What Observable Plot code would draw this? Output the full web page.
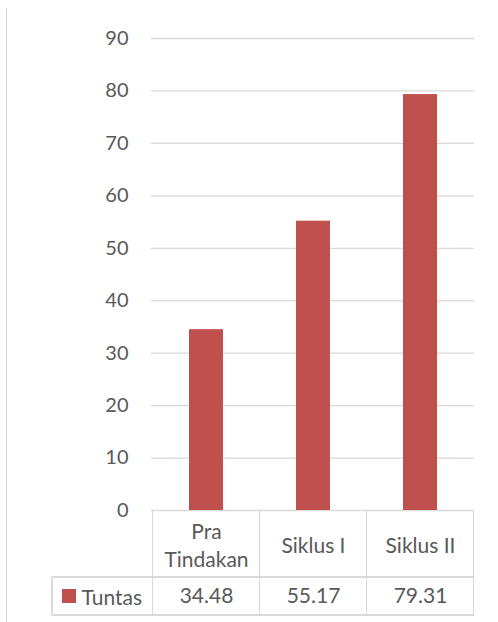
<!DOCTYPE html>
<html><head><meta charset="utf-8">
<script src="https://cdn.jsdelivr.net/npm/d3@7"></script>
<script src="https://cdn.jsdelivr.net/npm/@observablehq/plot@0.6"></script>
<style>
body{margin:0;background:#fff;}
#wrap{position:relative;width:498px;height:622px;font-family:Lato,"Open Sans",sans-serif;color:#595959;overflow:hidden;}
.ln{position:absolute;background:#d9d9d9;}
.cell{position:absolute;display:flex;align-items:center;justify-content:center;font-size:21px;color:#595959;}
</style></head><body><div id="wrap"></div>
<script>
const categories = ["Pra Tindakan", "Siklus I", "Siklus II"];
const values = [34.48, 55.17, 79.31];
const seriesName = "Tuntas";
const yTicks = [0, 10, 20, 30, 40, 50, 60, 70, 80, 90];
const data = categories.map((c, i) => ({category: c, value: values[i]}));

const font = 'Lato, "Open Sans", sans-serif';
const plot = Plot.plot({
  width: 498, height: 622,
  marginLeft: 151, marginRight: 24, marginTop: 38, marginBottom: 112,
  style: {fontFamily: font, fontSize: "20px", color: "#595959", background: "transparent", overflow: "visible"},
  x: {domain: categories, paddingInner: 0.684, paddingOuter: 0.342, axis: null},
  y: {domain: [0, 90]},
  marks: [
    Plot.gridY(yTicks, {stroke: "#d9d9d9", strokeOpacity: 1, strokeWidth: 1.3}),
    Plot.axisY(yTicks, {tickSize: 0, tickPadding: 23, fontSize: 20, fill: "#595959", label: null, tickFormat: d => String(d)}),
    Plot.barY(data, {x: "category", y: "value", fill: "#c0504d"}),
    Plot.text(categories, {x: d => d, frameAnchor: "bottom", dy: 33.5, lineAnchor: "middle", lineHeight: 1.35, lineWidth: 5.5, fontSize: 21, fill: "#595959"}),
    Plot.text(data, {x: "category", frameAnchor: "bottom", dy: 86, text: d => d.value.toFixed(2), lineAnchor: "middle", fontSize: 21, fill: "#595959"})
  ]
});
plot.style.position = "absolute";
plot.style.left = "0px";
plot.style.top = "0px";
const wrap = document.getElementById("wrap");
wrap.appendChild(plot);

// data table borders from the x scale
const xs = plot.scale("x");
const ys = plot.scale("y");
const y0 = ys.apply(0);
const step = xs.step;
const xLeft = xs.apply(categories[0]) - (step - xs.bandwidth) / 2;
const row1Bottom = y0 + 67;
const row2Bottom = y0 + 105;
const legendLeft = 52;
function line(x, y, w, h) {
  const d = document.createElement("div");
  d.className = "ln";
  d.style.left = x + "px"; d.style.top = y + "px";
  d.style.width = w + "px"; d.style.height = h + "px";
  wrap.appendChild(d);
}
// left chart border
line(6, 8, 1.3, 614);
// vertical column separators
for (let i = 0; i <= categories.length; i++) {
  line(xLeft + i * step - 0.65, y0, 1.3, row2Bottom - y0);
}
line(legendLeft - 0.65, row1Bottom, 1.3, row2Bottom - row1Bottom);
line(legendLeft, row1Bottom - 0.65, xLeft + categories.length * step - legendLeft, 1.3);
line(legendLeft, row2Bottom - 0.65, xLeft + categories.length * step - legendLeft, 1.3);

// legend cell
const leg = document.createElement("div");
leg.className = "cell";
leg.style.left = legendLeft + "px";
leg.style.top = row1Bottom + "px";
leg.style.width = (xLeft - legendLeft) + "px";
leg.style.height = (row2Bottom - row1Bottom) + "px";
leg.innerHTML = '<span style="display:inline-block;width:14px;height:14px;background:#c0504d;margin-right:5px"></span><span>' + seriesName + '</span>';
wrap.appendChild(leg);
</script>
</body></html>
